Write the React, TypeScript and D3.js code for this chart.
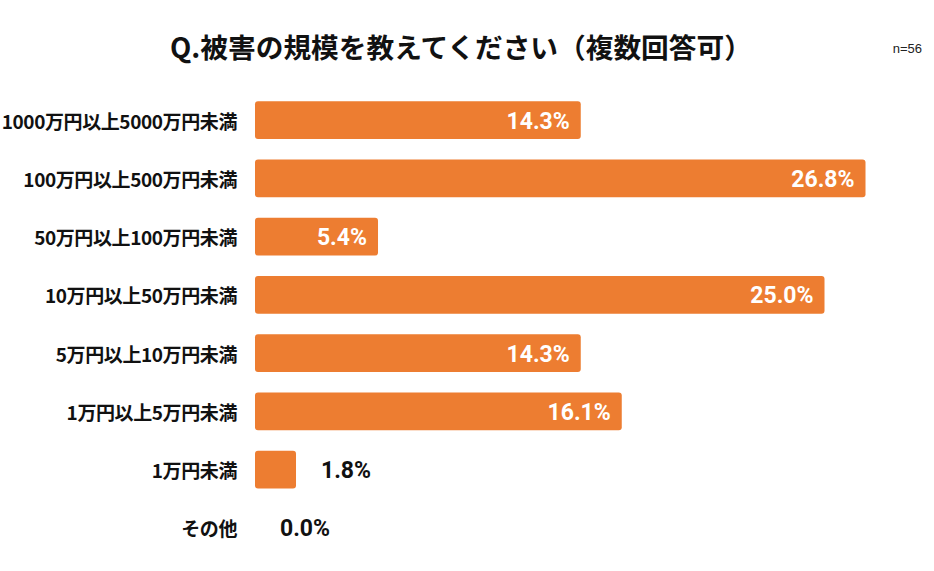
import React, { useRef, useEffect } from 'react';
import { select, scaleBand, scaleLinear } from 'd3';

const categories = [
  '1000万円以上5000万円未満',
  '100万円以上500万円未満',
  '50万円以上100万円未満',
  '10万円以上50万円未満',
  '5万円以上10万円未満',
  '1万円以上5万円未満',
  '1万円未満',
  'その他',
];
const values = [14.3, 26.8, 5.4, 25.0, 14.3, 16.1, 1.8, 0.0];
const title = 'Q.被害の規模を教えてください（複数回答可）';
const sampleNote = 'n=56';

const WIDTH = 934;
const HEIGHT = 571;
const BAR_COLOR = '#ED7D31';
const JP_FONT = '"Noto Sans CJK JP", "Noto Sans", sans-serif';
const NUM_FONT = 'Roboto, "Noto Sans", sans-serif';

export default function App() {
  const svgRef = useRef<SVGSVGElement>(null);

  useEffect(() => {
    const svg = select(svgRef.current);
    svg.selectAll('*').remove();

    const yScale = scaleBand<string>()
      .domain(categories)
      .range([91, 557])
      .paddingInner(0.35)
      .paddingOuter(0.175);
    const xScale = scaleLinear().domain([0, 30]).range([255, 938.4]);

    const data = categories.map((c, i) => ({ label: c, value: values[i] }));

    svg
      .append('text')
      .attr('x', 170)
      .attr('y', 46)
      .attr('dominant-baseline', 'central')
      .attr('font-family', JP_FONT)
      .attr('font-weight', 700)
      .attr('font-size', 27.7)
      .attr('fill', '#111')
      .text(title);

    svg
      .append('text')
      .attr('x', 922)
      .attr('y', 48)
      .attr('text-anchor', 'end')
      .attr('dominant-baseline', 'central')
      .attr('font-family', 'Arial, "Liberation Sans", sans-serif')
      .attr('font-size', 13)
      .attr('fill', '#222')
      .text(sampleNote);

    // category labels
    svg
      .append('g')
      .selectAll('text')
      .data(data)
      .join('text')
      .attr('x', 237)
      .attr('y', d => (yScale(d.label) as number) + yScale.bandwidth() / 2)
      .attr('text-anchor', 'end')
      .attr('dominant-baseline', 'central')
      .attr('font-family', JP_FONT)
      .attr('font-weight', 700)
      .attr('font-size', 19)
      .attr('letter-spacing', -0.4)
      .attr('fill', '#111')
      .text(d => d.label);

    // bars
    svg
      .append('g')
      .selectAll('rect')
      .data(data.filter(d => d.value > 0))
      .join('rect')
      .attr('x', xScale(0))
      .attr('y', d => yScale(d.label) as number)
      .attr('width', d => xScale(d.value) - xScale(0))
      .attr('height', yScale.bandwidth())
      .attr('rx', 3)
      .attr('fill', BAR_COLOR);

    // value labels: inside for long bars, outside for short ones
    const inside = (d: { value: number }) => d.value >= 5;
    svg
      .append('g')
      .selectAll('text')
      .data(data)
      .join('text')
      .attr('x', d => (inside(d) ? xScale(d.value) - 11 : xScale(d.value) + 25))
      .attr('y', d => (yScale(d.label) as number) + yScale.bandwidth() / 2 + 1)
      .attr('text-anchor', d => (inside(d) ? 'end' : 'start'))
      .attr('dominant-baseline', 'central')
      .attr('font-family', NUM_FONT)
      .attr('font-weight', 700)
      .attr('font-size', 23)
      .attr('fill', d => (inside(d) ? '#fff' : '#111'))
      .text(d => d.value.toFixed(1) + '%');
  }, []);

  return (
    <svg
      ref={svgRef}
      width={WIDTH}
      height={HEIGHT}
      style={{ position: 'absolute', left: 0, top: 0, background: '#fff' }}
    />
  );
}
